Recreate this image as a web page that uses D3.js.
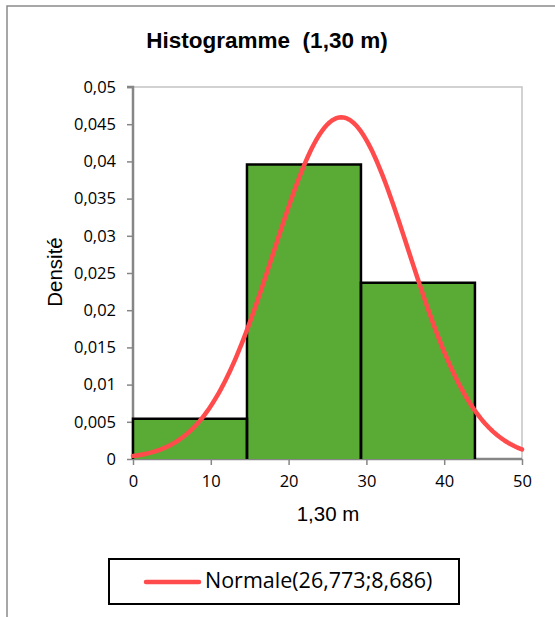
<!DOCTYPE html>
<html>
<head>
<meta charset="utf-8">
<script src="https://cdn.jsdelivr.net/npm/d3@7"></script>
<style>
  html, body { margin: 0; padding: 0; background: #fff; }
  svg { display: block; }
</style>
</head>
<body>
<svg id="chart" width="555" height="617"></svg>
<script>
// Histogram bins (class limits, in metres of circumference at 1,30 m) and densities
const binEdges = [0, 14.65, 29.3, 43.95];
const densities = [0.0054, 0.0396, 0.0237];

// Fitted normal law stated in the legend
const normMean = 26.773;
const normSd = 8.686;
const legendLabel = "Normale(26,773;8,686)";

const xTicks = [0, 10, 20, 30, 40, 50];
const yTicks = [0, 0.005, 0.01, 0.015, 0.02, 0.025, 0.03, 0.035, 0.04, 0.045, 0.05];

const titleText = "Histogramme  (1,30 m)";
const xTitle = "1,30 m";
const yTitle = "Densité";

const svg = d3.select("#chart");
const fmt = v => String(v).replace(".", ",");

const plot = { left: 133, right: 522, top: 87, bottom: 459 };
const x = d3.scaleLinear().domain([0, 50]).range([plot.left, plot.right]);
const y = d3.scaleLinear().domain([0, 0.05]).range([plot.bottom, plot.top]);

// outer chart frame
svg.append("rect")
  .attr("x", 7).attr("y", 6).attr("width", 600).attr("height", 700)
  .attr("fill", "#fff").attr("stroke", "#8a8a8a").attr("stroke-width", 1.5);

// title
svg.append("text")
  .attr("x", 267).attr("y", 48)
  .attr("text-anchor", "middle")
  .style("white-space", "pre")
  .attr("font-family", "Liberation Sans, Arial, sans-serif")
  .attr("font-weight", "bold").attr("font-size", 22.5)
  .text(titleText);

// plot area top/right border
svg.append("path")
  .attr("d", `M${plot.left},${plot.top}H${plot.right}V${plot.bottom}`)
  .attr("fill", "none").attr("stroke", "#c4c4c4").attr("stroke-width", 1.5);

// axes
const yAxis = d3.axisLeft(y).tickValues(yTicks).tickFormat(fmt).tickSize(6).tickPadding(11);
const xAxis = d3.axisBottom(x).tickValues(xTicks).tickFormat(fmt).tickSize(6).tickPadding(10);

const gy = svg.append("g").attr("transform", `translate(${plot.left},0)`).call(yAxis);
const gx = svg.append("g").attr("transform", `translate(0,${plot.bottom})`).call(xAxis);

[gx, gy].forEach(g => {
  g.select(".domain").attr("stroke", "#868686").attr("stroke-width", 2.5);
  g.selectAll(".tick line").attr("stroke", "#868686").attr("stroke-width", 1.5);
  g.selectAll(".tick text")
    .attr("font-family", "Open Sans, sans-serif")
    .attr("font-size", 16.5).attr("fill", "#000");
});
gy.select(".domain").attr("d", `M-6,${plot.top}H0V${plot.bottom}`);
gx.select(".domain").attr("d", `M${plot.left},0H${plot.right}`);

// histogram bars (no bottom edge, drawn over the axis)
const bins = densities.map((d, i) => ({ x0: binEdges[i], x1: binEdges[i + 1], d }));
svg.append("g").selectAll("rect").data(bins).join("rect")
  .attr("x", b => x(b.x0)).attr("y", b => y(b.d))
  .attr("width", b => x(b.x1) - x(b.x0)).attr("height", b => y(0) - y(b.d))
  .attr("fill", "#5aab35");
svg.append("g").selectAll("path").data(bins).join("path")
  .attr("d", b => `M${x(b.x0)},${y(0)}V${y(b.d)}H${x(b.x1)}V${y(0)}`)
  .attr("fill", "none").attr("stroke", "#000").attr("stroke-width", 2.5);

// normal density curve
const pdf = v => Math.exp(-0.5 * ((v - normMean) / normSd) ** 2) / (normSd * Math.sqrt(2 * Math.PI));
const curveX = d3.range(0, 50.001, 0.25);
svg.append("path")
  .datum(curveX)
  .attr("d", d3.line().x(v => x(v)).y(v => y(pdf(v))))
  .attr("fill", "none").attr("stroke", "#ff4b4b").attr("stroke-width", 4.5)
  .attr("stroke-linecap", "round").attr("stroke-linejoin", "round");

// axis titles
svg.append("text")
  .attr("x", 328).attr("y", 521).attr("text-anchor", "middle")
  .attr("font-family", "Liberation Sans, Arial, sans-serif").attr("font-size", 20.5)
  .text(xTitle);
svg.append("text")
  .attr("transform", "translate(62,272) rotate(-90)").attr("text-anchor", "middle")
  .attr("font-family", "Liberation Sans, Arial, sans-serif").attr("font-size", 20.5)
  .text(yTitle);

// legend
const lg = svg.append("g");
lg.append("rect").attr("x", 109).attr("y", 559).attr("width", 350).attr("height", 45)
  .attr("fill", "#fff").attr("stroke", "#000").attr("stroke-width", 2);
lg.append("line").attr("x1", 146).attr("x2", 199).attr("y1", 582).attr("y2", 582)
  .attr("stroke", "#ff4b4b").attr("stroke-width", 4.5).attr("stroke-linecap", "round");
lg.append("text").attr("x", 205).attr("y", 588)
  .attr("font-family", "Open Sans, sans-serif").attr("font-size", 21.5)
  .text(legendLabel);
</script>
</body>
</html>
